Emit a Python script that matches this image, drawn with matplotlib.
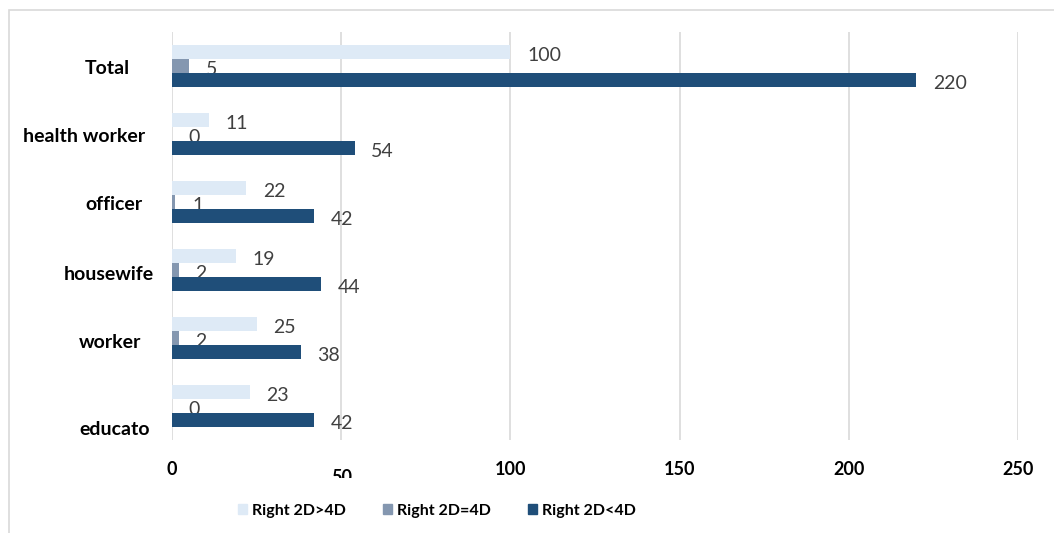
import numpy as np
import matplotlib.pyplot as plt
from matplotlib.patches import Rectangle
from matplotlib.transforms import Bbox, TransformedBbox, ScaledTranslation

# occupation groups, bottom to top
categories = ["educato", "worker", "housewife", "officer", "health worker", "Total"]
series_names = ["Right 2D>4D", "Right 2D=4D", "Right 2D<4D"]
right_gt = [23, 25, 19, 22, 11, 100]
right_eq = [0, 2, 2, 1, 0, 5]
right_lt = [42, 38, 44, 42, 54, 220]
x_ticks = [0, 50, 100, 150, 200, 250]

colors = ["#DEEAF6", "#8497B0", "#1F4E79"]
font = ["Lato", "DejaVu Sans"]

# per-label nudges (points) for the category names: (dx, dy)
label_nudge = [(4, -16), (-2, -2), (7, -2), (-1, -1), (1, -1), (-10, -1)]

fig = plt.figure(figsize=(10.54, 5.33), dpi=100)
ax = fig.add_axes([172 / 1054, 1 - 440 / 533, 846 / 1054, 408 / 533])

# light grey outer frame
fig.patches.append(Rectangle((9 / 1054, -0.5), 2.0, 1.5 - 10 / 533, transform=fig.transFigure,
                             fill=False, edgecolor="#D9D9D9", lw=1.2))

y = np.arange(len(categories))
h = 0.21
for vals, off, col in zip([right_gt, right_eq, right_lt], [h, 0, -h], colors):
    bars = ax.barh(y + off, vals, height=h, color=col, zorder=3)
    for b, v in zip(bars, vals):
        ax.annotate(str(v), (v, b.get_y() + b.get_height() / 2), xytext=(12, -2.5),
                    textcoords="offset points", ha="left", va="center",
                    fontsize=14, color="#404040", family=font)

ax.set_xlim(0, 250)
ax.set_ylim(-0.5, 5.5)
ax.set_xticks(x_ticks)
ax.set_xticklabels([str(t) for t in x_ticks], fontsize=13, fontweight="bold", family=font)
ax.set_yticks(y)
ax.set_yticklabels(categories, fontsize=14, fontweight="bold", family=font)
ax.tick_params(axis="x", length=0, pad=15)
ax.tick_params(axis="y", length=0, pad=20)
ax.grid(axis="x", color="#D9D9D9", lw=1.2, zorder=0)
for s in ax.spines.values():
    s.set_visible(False)

for lab, (dx, dy) in zip(ax.get_yticklabels(), label_nudge):
    lab.set_transform(lab.get_transform() + ScaledTranslation(dx / 72, dy / 72, fig.dpi_scale_trans))

# the "50" label sits lower and is cut off at its base
lab50 = ax.get_xticklabels()[1]
lab50.set_transform(lab50.get_transform() + ScaledTranslation(0, -6 / 72, fig.dpi_scale_trans))
lab50.set_clip_box(TransformedBbox(Bbox([[0, 55 / 533], [1, 1]]), fig.transFigure))
lab50.set_clip_on(True)

handles = [Rectangle((0, 0), 1, 1, color=c) for c in colors]
fig.legend(handles, series_names, loc="center", bbox_to_anchor=(437 / 1054, 1 - 511 / 533),
           ncol=3, frameon=False, handlelength=0.6, handleheight=0.6, handletextpad=0.3,
           columnspacing=2.3, prop={"family": font, "weight": "bold", "size": 11.5})

fig.savefig("out.png", dpi=100)
